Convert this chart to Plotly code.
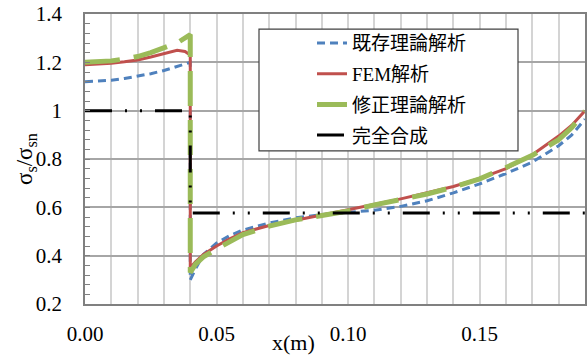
import plotly.graph_objects as go

# ---- data ----
x_blue = [0, 0.005, 0.01, 0.015, 0.02, 0.025, 0.03, 0.035, 0.04, 0.04, 0.042, 0.045, 0.05, 0.055, 0.06,
          0.07, 0.08, 0.09, 0.10, 0.11, 0.12, 0.13, 0.14, 0.15, 0.16, 0.17, 0.18, 0.185, 0.19]
y_blue = [1.120, 1.122, 1.126, 1.133, 1.142, 1.153, 1.166, 1.182, 1.200, 0.300, 0.345, 0.405, 0.452, 0.483, 0.506,
          0.535, 0.557, 0.570, 0.578, 0.588, 0.604, 0.627, 0.660, 0.697, 0.740, 0.787, 0.855, 0.900, 0.965]

x_red = [0, 0.005, 0.01, 0.015, 0.02, 0.025, 0.03, 0.035, 0.038, 0.04, 0.04, 0.042, 0.045, 0.05, 0.055, 0.06,
         0.07, 0.08, 0.09, 0.10, 0.11, 0.12, 0.13, 0.14, 0.15, 0.16, 0.17, 0.18, 0.185, 0.19]
y_red = [1.190, 1.192, 1.196, 1.202, 1.210, 1.222, 1.236, 1.250, 1.245, 1.230, 0.350, 0.375, 0.405, 0.440, 0.470, 0.495,
         0.525, 0.548, 0.568, 0.590, 0.612, 0.635, 0.660, 0.686, 0.720, 0.760, 0.818, 0.895, 0.940, 1.000]

x_green = [0, 0.005, 0.01, 0.015, 0.02, 0.025, 0.03, 0.035, 0.04, 0.04, 0.042, 0.045, 0.05, 0.055, 0.06,
           0.07, 0.08, 0.09, 0.10, 0.11, 0.12, 0.13, 0.14, 0.15, 0.16, 0.17, 0.18, 0.185, 0.19]
y_green = [1.200, 1.202, 1.206, 1.214, 1.224, 1.240, 1.260, 1.280, 1.315, 0.330, 0.365, 0.395, 0.428, 0.460, 0.487,
           0.522, 0.548, 0.566, 0.585, 0.610, 0.630, 0.655, 0.684, 0.718, 0.765, 0.815, 0.880, 0.930, 0.998]

x_black = [0, 0.04, 0.04, 0.19]
y_black = [1.0, 1.0, 0.577, 0.577]

names = ["既存理論解析", "FEM解析", "修正理論解析", "完全合成"]
x_ticks = [0, 0.05, 0.10, 0.15]
x_ticktext = ["0.00", "0.05", "0.10", "0.15"]

FONT = "'Liberation Serif', 'Times New Roman', Times, serif"
FONT_CJK = "'Liberation Serif', 'Noto Sans CJK JP', serif"

fig = go.Figure()
fig.add_trace(go.Scatter(x=x_blue, y=y_blue, mode="lines", name=names[0], legendgroup="a",
                         line=dict(color="#4f81bd", width=3, dash="8px,5px")))
fig.add_trace(go.Scatter(x=x_red, y=y_red, mode="lines", name=names[1], legendgroup="b",
                         line=dict(color="#c0504d", width=3)))
fig.add_trace(go.Scatter(x=x_green, y=y_green, mode="lines", name=names[2], legendgroup="c",
                         line=dict(color="#9bbb59", width=5, dash="35px,14px")))
fig.add_trace(go.Scatter(x=x_black, y=y_black, mode="lines", name=names[3], legendgroup="d",
                         line=dict(color="#000000", width=3, dash="27px,13px,2px,13px,2px,13px")))

fig.add_shape(type="rect", xref="paper", yref="paper", x0=0.348, x1=0.866, y0=0.528, y1=0.948,
              line=dict(color="#404040", width=1.2), fillcolor="white", layer="above")

fig.update_layout(
    width=587, height=356,
    margin=dict(l=85, r=2, t=14, b=52, autoexpand=False),
    paper_bgcolor="white", plot_bgcolor="white",
    font=dict(family=FONT, size=20, color="black"),
    showlegend=True,
    legend=dict(x=0.454, y=0.965, xanchor="left", yanchor="top", bgcolor="rgba(0,0,0,0)",
                borderwidth=0, font=dict(family=FONT_CJK, size=19, color="black"),
                traceorder="grouped", tracegroupgap=3),
    xaxis=dict(range=[0, 0.19], tickvals=x_ticks, ticktext=x_ticktext, showgrid=True,
               gridcolor="#d4d4d4", gridwidth=1.5, ticks="", ticklabelstandoff=10, automargin=False,
               minor=dict(dtick=0.01, showgrid=True, gridcolor="#d4d4d4", gridwidth=1.5),
               showline=True, linecolor="#808080", linewidth=1.5, mirror=True, zeroline=False,
               tickfont=dict(family=FONT, size=21)),
    yaxis=dict(range=[0.2, 1.4], dtick=0.2, showgrid=True, gridcolor="#a6a6a6", gridwidth=1.5,
               ticks="inside", ticklen=5, tickcolor="#808080", ticklabelstandoff=17, automargin=False,
               minor=dict(dtick=0.04, ticks="inside", ticklen=5, tickcolor="#808080", showgrid=False),
               showline=True, linecolor="#808080", linewidth=1.5, mirror=True, zeroline=False,
               tickfont=dict(family=FONT, size=21)),
)

fig.add_annotation(text="σ<sub>s</sub>/σ<sub>sn</sub>", xref="paper", yref="paper",
                   x=-0.118, y=0.5, xanchor="center", yanchor="middle", textangle=-90,
                   showarrow=False, font=dict(family=FONT, size=23))
fig.add_annotation(text="x(m)", xref="paper", yref="paper", x=0.416, y=-0.133,
                   xanchor="center", yanchor="middle", showarrow=False,
                   font=dict(family=FONT, size=22))

fig.write_html("out.html", config={"displayModeBar": False},
               post_script="document.body.style.margin='0';")
